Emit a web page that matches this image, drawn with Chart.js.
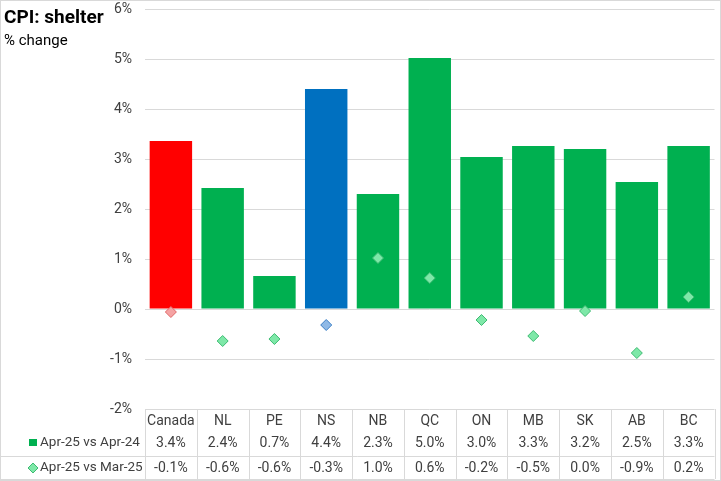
<!DOCTYPE html>
<html>
<head>
<meta charset="utf-8">
<script src="https://cdn.jsdelivr.net/npm/chart.js@4.4.1/dist/chart.umd.min.js"></script>
<style>
  html, body { margin: 0; padding: 0; background: #fff; }
  #wrap { position: relative; width: 721px; height: 481px; }
</style>
</head>
<body>
<div id="wrap"><canvas id="chart" width="721" height="481"></canvas></div>
<script>
// data
const categories = ['Canada', 'NL', 'PE', 'NS', 'NB', 'QC', 'ON', 'MB', 'SK', 'AB', 'BC'];
const yearOverYear = [3.36, 2.42, 0.66, 4.4, 2.3, 5.02, 3.04, 3.26, 3.2, 2.54, 3.26];
const monthOverMonth = [-0.06, -0.64, -0.6, -0.32, 1.02, 0.62, -0.22, -0.54, -0.04, -0.88, 0.24];
const seriesNames = ['Apr-25 vs Apr-24', 'Apr-25 vs Mar-25'];

// colours: Canada red, NS blue, the rest green
const barColors = categories.map(c => c === 'Canada' ? '#ff0000' : (c === 'NS' ? '#0070c0' : '#00b050'));
const dotFill = categories.map(c => c === 'Canada' ? '#f5a3a3' : (c === 'NS' ? '#8fb9e6' : '#7ee8a8'));
const dotLine = categories.map(c => c === 'Canada' ? '#e06666' : (c === 'NS' ? '#3c7fc6' : '#3dbb72'));

const FONT = 'Roboto, sans-serif';
const TEXT = '#404040';
const GRID = '#d9d9d9';

function fmt(v) {
  return (Math.round(v * 10) / 10).toFixed(1) + '%';
}

// title, data table and frame
const tablePlugin = {
  id: 'tablePlugin',
  afterDraw(chart) {
    const ctx = chart.ctx;
    const x = chart.scales.x;
    const area = chart.chartArea;
    const colW = (area.right - area.left) / categories.length;
    const top = area.bottom;
    const row1 = top + 23, row2 = top + 47, bottom = top + 70;

    ctx.save();
    // title
    ctx.fillStyle = '#000';
    ctx.textAlign = 'left';
    ctx.textBaseline = 'alphabetic';
    ctx.font = 'bold 19px ' + FONT;
    ctx.fillText('CPI: shelter', 4, 23);
    ctx.font = '15px ' + FONT;
    ctx.fillText('% change', 4, 45);

    // table lines
    ctx.strokeStyle = GRID;
    ctx.lineWidth = 1;
    ctx.beginPath();
    for (let i = 0; i <= categories.length; i++) {
      const lx = Math.round(area.left + i * colW) + 0.5;
      ctx.moveTo(lx, top);
      ctx.lineTo(lx, bottom);
    }
    ctx.moveTo(0.5, row1);
    ctx.lineTo(0.5, bottom);
    ctx.moveTo(0, row2 + 0.5);
    ctx.lineTo(area.right, row2 + 0.5);
    ctx.moveTo(0, bottom + 0.5);
    ctx.lineTo(area.right, bottom + 0.5);
    ctx.stroke();

    // outer frame
    ctx.strokeRect(0.5, 0.5, chart.width - 1, chart.height - 1);

    // cells
    ctx.fillStyle = TEXT;
    ctx.font = '14px ' + FONT;
    ctx.textAlign = 'center';
    ctx.textBaseline = 'middle';
    categories.forEach((c, i) => {
      const cx = x.getPixelForValue(i);
      ctx.fillText(c, cx, top + 12);
      ctx.fillText(fmt(yearOverYear[i]), cx, row1 + 11);
      ctx.fillText(fmt(monthOverMonth[i]), cx, row2 + 12);
    });

    // legend keys
    ctx.textAlign = 'left';
    ctx.font = '13.5px ' + FONT;
    ctx.fillText(seriesNames[0], 40, row1 + 11);
    ctx.fillText(seriesNames[1], 40, row2 + 12);
    ctx.fillStyle = '#00b050';
    ctx.fillRect(29, row1 + 7, 8, 7);
    const dx = 33, dy = row2 + 12;
    ctx.beginPath();
    ctx.moveTo(dx, dy - 5);
    ctx.lineTo(dx + 5, dy);
    ctx.lineTo(dx, dy + 5);
    ctx.lineTo(dx - 5, dy);
    ctx.closePath();
    ctx.fillStyle = '#7ee8a8';
    ctx.fill();
    ctx.strokeStyle = '#3dbb72';
    ctx.stroke();
    ctx.restore();
  }
};

new Chart(document.getElementById('chart'), {
  data: {
    labels: categories,
    datasets: [
      {
        type: 'line',
        label: seriesNames[1],
        data: monthOverMonth,
        showLine: false,
        pointStyle: 'rectRot',
        pointRadius: 5.5,
        pointBackgroundColor: dotFill,
        pointBorderColor: dotLine,
        pointBorderWidth: 1,
        order: 0
      },
      {
        type: 'bar',
        label: seriesNames[0],
        data: yearOverYear,
        backgroundColor: barColors,
        categoryPercentage: 1,
        barPercentage: 0.82,
        order: 1
      }
    ]
  },
  options: {
    responsive: false,
    animation: false,
    layout: { padding: { top: 9, right: 1, bottom: 72, left: 0 } },
    plugins: {
      legend: { display: false },
      tooltip: { enabled: false },
      title: { display: false }
    },
    scales: {
      x: {
        display: false,
        offset: true
      },
      y: {
        min: -2,
        max: 6,
        ticks: {
          stepSize: 1,
          padding: 13,
          color: TEXT,
          font: { family: FONT, size: 14 },
          callback: v => v + '%'
        },
        grid: { color: GRID, drawTicks: false },
        border: { display: false },
        afterFit(scale) {
          scale.width = 145;
          scale.paddingTop = 0;
          scale.paddingBottom = 0;
        }
      }
    }
  },
  plugins: [tablePlugin]
});
</script>
</body>
</html>
